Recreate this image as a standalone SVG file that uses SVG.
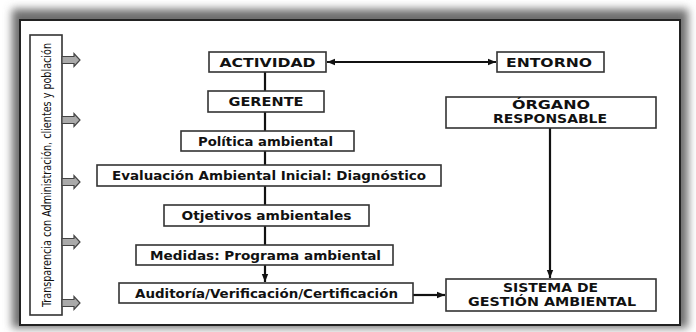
<svg xmlns="http://www.w3.org/2000/svg" width="696" height="332" viewBox="0 0 696 332">
<defs>
<filter id="sh" x="-5%" y="-10%" width="110%" height="120%"><feGaussianBlur stdDeviation="4"/></filter>
<marker id="ah" viewBox="0 0 10 10" refX="10" refY="5" markerWidth="10" markerHeight="8" markerUnits="userSpaceOnUse" orient="auto-start-reverse"><path d="M0,1 L10,5 L0,9 Z" fill="#111"/></marker>
<path id="blk" d="M0,-3.5 H12 V-6.5 L18,0 L12,6.5 V3.5 H0 Z"/>
</defs>
<style>
.box{fill:#fff;stroke:#333;stroke-width:1.6}
.t{font-family:"DejaVu Sans",sans-serif;font-weight:bold;font-size:12px;fill:#111;text-anchor:middle}
.ln{stroke:#111;stroke-width:2.2;fill:none}
.ba{fill:#aaa;stroke:#444;stroke-width:1.2}
</style>
<rect width="696" height="332" fill="#fff"/>
<rect x="12" y="9" width="676" height="319" fill="#6e6e6e" filter="url(#sh)"/>
<rect x="20" y="20" width="660" height="305" fill="#fff" stroke="#222" stroke-width="2"/>
<g id="side">
<rect x="30" y="35" width="32" height="280" fill="#fff" stroke="#333" stroke-width="1.6"/>
<text class="t" transform="translate(50.5,175) rotate(-90)" style="font-weight:normal;font-family:'DejaVu Sans Condensed','DejaVu Sans',sans-serif;font-size:13px" textLength="264" lengthAdjust="spacingAndGlyphs">Transparencia con Administración, clientes y población</text>
</g>
<g id="blockarrows">
<use href="#blk" class="ba" transform="translate(62,60)"/>
<use href="#blk" class="ba" transform="translate(62,120)"/>
<use href="#blk" class="ba" transform="translate(62,182)"/>
<use href="#blk" class="ba" transform="translate(62,242)"/>
<use href="#blk" class="ba" transform="translate(62,303)"/>
</g>
<g id="connectors">
<line class="ln" x1="265" y1="72" x2="265" y2="91"/>
<line class="ln" x1="265" y1="112" x2="265" y2="131"/>
<line class="ln" x1="265" y1="151" x2="265" y2="165"/>
<line class="ln" x1="265" y1="186" x2="265" y2="205"/>
<line class="ln" x1="265" y1="226" x2="265" y2="245"/>
<line class="ln" x1="265" y1="265" x2="265" y2="282" marker-end="url(#ah)"/>
<line class="ln" x1="327" y1="62" x2="496" y2="62" stroke-width="1.6" marker-start="url(#ah)" marker-end="url(#ah)"/>
<line class="ln" x1="550" y1="128" x2="550" y2="278" marker-end="url(#ah)"/>
<line class="ln" x1="413" y1="295" x2="445" y2="295" stroke-width="1.6" marker-end="url(#ah)"/>
</g>
<g id="actividad"><rect class="box" x="209" y="52" width="117" height="20"/><text class="t" x="267.5" y="66.5" textLength="96" lengthAdjust="spacingAndGlyphs">ACTIVIDAD</text></g>
<g id="entorno"><rect class="box" x="497" y="52" width="107" height="20"/><text class="t" x="549" y="66.5" textLength="86" lengthAdjust="spacingAndGlyphs">ENTORNO</text></g>
<g id="gerente"><rect class="box" x="208" y="91" width="116" height="21"/><text class="t" x="266" y="106" textLength="75" lengthAdjust="spacingAndGlyphs">GERENTE</text></g>
<g id="organo"><rect class="box" x="446" y="97" width="210" height="31"/><text class="t" x="551" y="109" textLength="78" lengthAdjust="spacingAndGlyphs">ÓRGANO</text><text class="t" x="550" y="122.5" textLength="114" lengthAdjust="spacingAndGlyphs">RESPONSABLE</text></g>
<g id="politica"><rect class="box" x="181" y="131" width="173" height="20"/><text class="t" x="265.5" y="145.5" textLength="135" lengthAdjust="spacingAndGlyphs">Política ambiental</text></g>
<g id="evaluacion"><rect class="box" x="97" y="165" width="344" height="21"/><text class="t" x="269" y="180" textLength="314" lengthAdjust="spacingAndGlyphs">Evaluación Ambiental Inicial: Diagnóstico</text></g>
<g id="objetivos"><rect class="box" x="164" y="205" width="205" height="21"/><text class="t" x="266.5" y="220" textLength="170" lengthAdjust="spacingAndGlyphs">Otjetivos ambientales</text></g>
<g id="medidas"><rect class="box" x="136" y="245" width="257" height="20"/><text class="t" x="265.5" y="259.5" textLength="231" lengthAdjust="spacingAndGlyphs">Medidas: Programa ambiental</text></g>
<g id="auditoria"><rect class="box" x="119" y="283" width="294" height="20"/><text class="t" x="266.5" y="297.5" textLength="263" lengthAdjust="spacingAndGlyphs">Auditoría/Verificación/Certificación</text></g>
<g id="sistema"><rect class="box" x="446" y="279" width="210" height="32"/><text class="t" x="550.5" y="292" textLength="95" lengthAdjust="spacingAndGlyphs">SISTEMA DE</text><text class="t" x="552" y="306" textLength="168" lengthAdjust="spacingAndGlyphs">GESTIÓN AMBIENTAL</text></g>
</svg>
